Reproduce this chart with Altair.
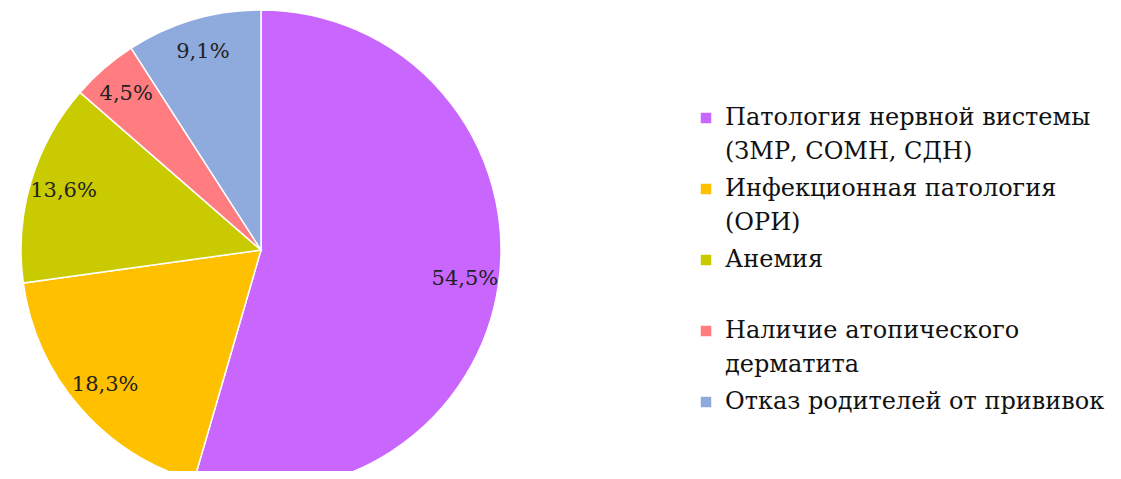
import altair as alt
import pandas as pd

categories = [
    "Патология нервной вистемы\n(ЗМР, СОМН, СДН)",
    "Инфекционная патология\n(ОРИ)",
    "Анемия\n ",
    "Наличие атопического\nдерматита",
    "Отказ родителей от прививок",
]
values = [54.5, 18.3, 13.6, 4.5, 9.1]
labels = ["54,5%", "18,3%", "13,6%", "4,5%", "9,1%"]
colors = ["#C966FE", "#FFC000", "#CACA00", "#FF7C80", "#8FAADC"]

df = pd.DataFrame({"cat": categories, "value": values, "label": labels, "idx": list(range(len(values)))})

FONT = "DejaVu Serif"
cx, cy = 253, 242

base = alt.Chart(df).encode(
    theta=alt.Theta("value:Q", stack=True),
    order=alt.Order("idx:Q"),
)

pie = base.mark_arc(outerRadius=240, stroke="white", strokeWidth=1.5).encode(
    x=alt.value(cx),
    y=alt.value(cy),
    color=alt.Color(
        "cat:N",
        scale=alt.Scale(domain=categories, range=colors),
        legend=alt.Legend(
            title=None,
            orient="none",
            legendX=686,
            legendY=98,
            padding=0,
            symbolType="square",
            symbolSize=110,
            symbolStrokeWidth=0,
            labelFont=FONT,
            labelFontSize=24,
            labelColor="#111111",
            labelLimit=600,
            labelOffset=7,
            labelExpr="split(datum.label, '\\n')",
            rowPadding=13,
        ),
    ),
)

text = base.mark_text(radius=206, font=FONT, fontSize=21, color="#222222").encode(
    x=alt.value(cx),
    y=alt.value(cy),
    text="label:N",
)

chart = alt.layer(pie, text).properties(
    width=1105,
    height=463,
    autosize=alt.AutoSizeParams(type="none"),
    padding=0,
).configure(
    font=FONT,
    view=alt.ViewConfig(stroke=None),
    style={"guide-label": {"lineHeight": 34, "font": FONT}},
)

chart.save("out.html", embed_options={"renderer": "svg", "actions": False})
